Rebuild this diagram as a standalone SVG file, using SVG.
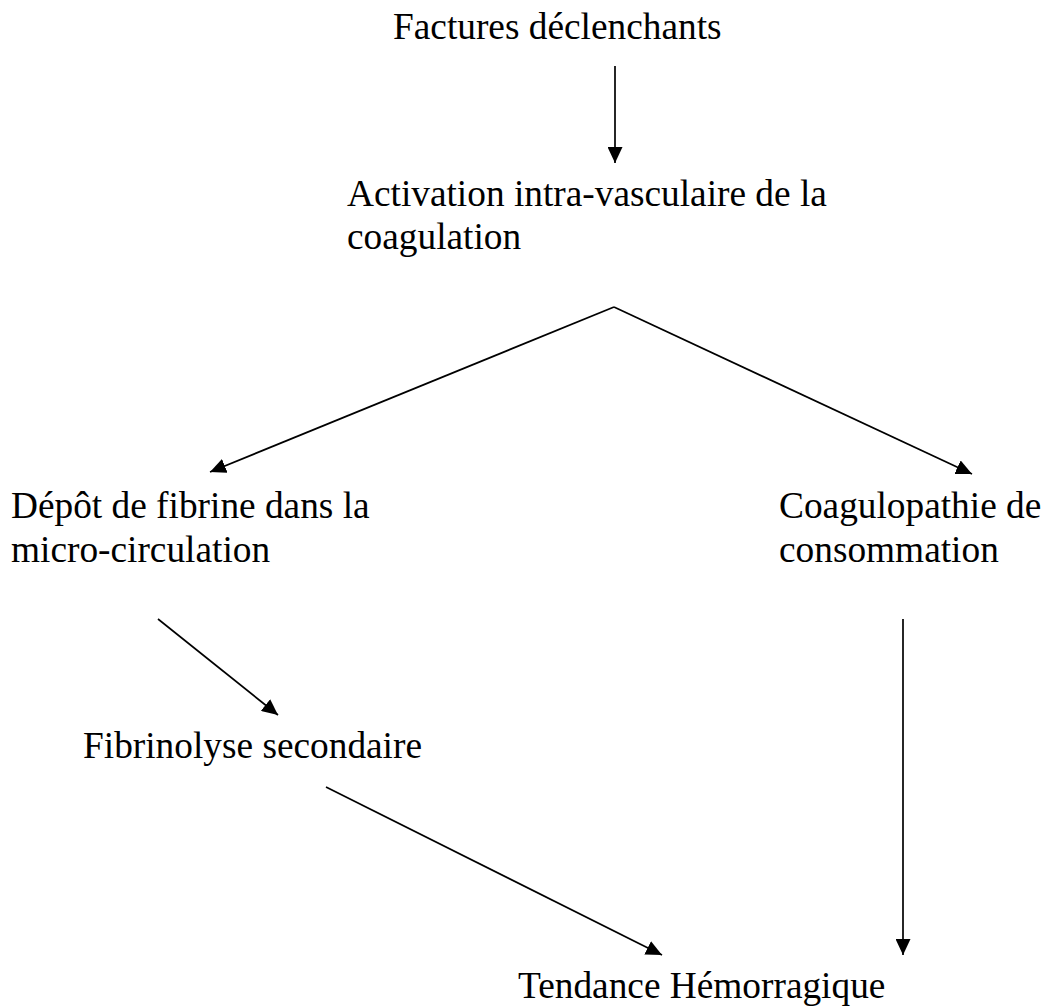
<svg xmlns="http://www.w3.org/2000/svg" width="1045" height="1008" viewBox="0 0 1045 1008">
<style>
  .t { font-family: "Liberation Serif", "Times New Roman", serif; font-size: 37.33px; fill: #000; }
  .c { stroke: #000; stroke-width: 1.7; fill: none; marker-end: url(#ah); }
</style>
<defs>
  <marker id="ah" viewBox="0 0 16 15" refX="16" refY="7.5" markerWidth="16" markerHeight="15" markerUnits="userSpaceOnUse" orient="auto">
    <path d="M0,0 L16,7.5 L0,15 z" fill="#000"/>
  </marker>
</defs>
<rect width="1045" height="1008" fill="#fff"/>
<g id="n-factures"><text class="t" x="393" y="39">Factures déclenchants</text></g>
<g id="n-activation"><text class="t" x="347" y="206">Activation intra-vasculaire de la</text><text class="t" x="347" y="249">coagulation</text></g>
<g id="n-depot"><text class="t" x="11" y="518">Dépôt de fibrine dans la</text><text class="t" x="11" y="562">micro-circulation</text></g>
<g id="n-coagulopathie"><text class="t" x="779" y="518">Coagulopathie de</text><text class="t" x="779" y="562">consommation</text></g>
<g id="n-fibrinolyse"><text class="t" x="83" y="758">Fibrinolyse secondaire</text></g>
<g id="n-tendance"><text class="t" x="518" y="998">Tendance Hémorragique</text></g>
<g id="connectors">
  <line class="c" x1="615" y1="66" x2="615" y2="163"/>
  <line class="c" x1="614" y1="307" x2="210" y2="472"/>
  <line class="c" x1="614" y1="307" x2="972" y2="474"/>
  <line class="c" x1="158" y1="619" x2="278" y2="715"/>
  <line class="c" x1="326" y1="787" x2="662" y2="955"/>
  <line class="c" x1="903" y1="619" x2="903" y2="955"/>
</g>
</svg>
